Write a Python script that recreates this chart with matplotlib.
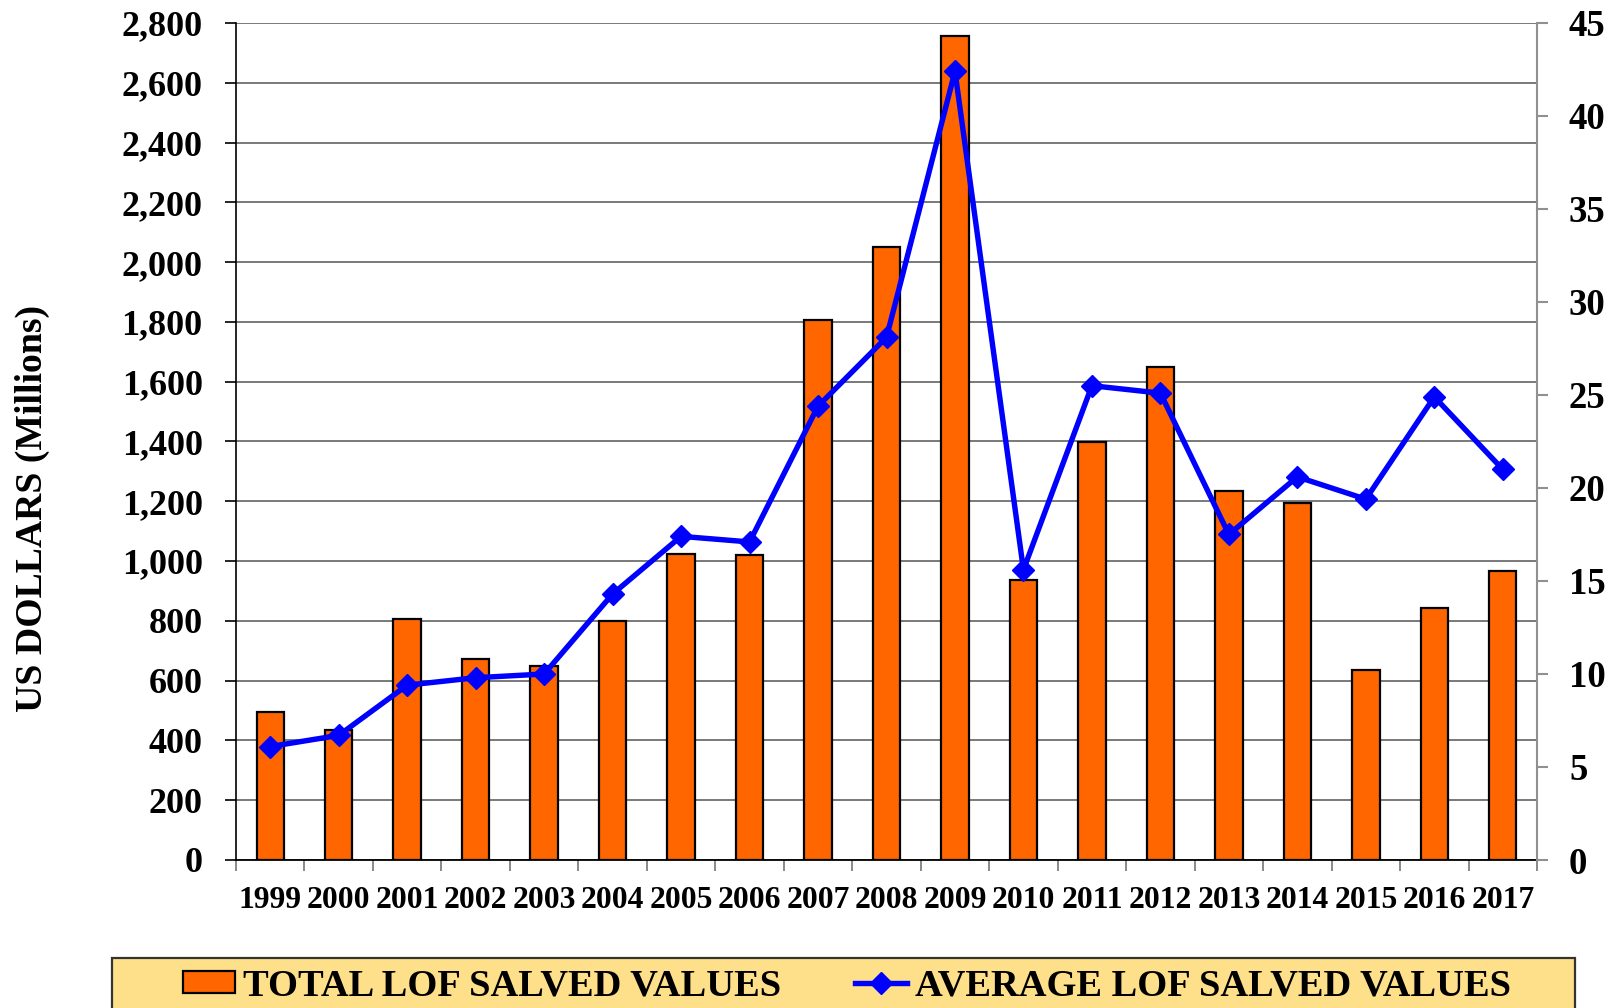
import matplotlib
matplotlib.use("Agg")
import matplotlib.pyplot as plt
import numpy as np
from matplotlib.patches import Patch, Rectangle
from matplotlib.lines import Line2D
from matplotlib.ticker import FuncFormatter, FixedLocator

years = ["1999", "2000", "2001", "2002", "2003", "2004", "2005", "2006", "2007", "2008",
         "2009", "2010", "2011", "2012", "2013", "2014", "2015", "2016", "2017"]
total_values = [495, 435, 805, 672, 650, 800, 1025, 1020, 1805, 2050,
                2755, 937, 1398, 1650, 1236, 1193, 637, 842, 966]
average_values = [6.1, 6.7, 9.4, 9.8, 10.0, 14.3, 17.4, 17.1, 24.4, 28.1,
                  42.4, 15.6, 25.5, 25.1, 17.5, 20.6, 19.4, 24.9, 21.0]
left_ticks = list(range(0, 2801, 200))
right_ticks = list(range(0, 46, 5))

plt.rcParams['font.family'] = ['Liberation Serif', 'DejaVu Serif']
plt.rcParams['font.weight'] = 'bold'

fig = plt.figure(figsize=(16.23, 10.08), dpi=100)
ax = fig.add_axes([236/1623, 1-860/1008, (1537-236)/1623, (860-23)/1008])
ax2 = ax.twinx()

x = np.arange(len(years))
ax.bar(x, total_values, width=0.40, color='#FF6600', edgecolor='black', linewidth=1.6, zorder=3)
ax2.plot(x, average_values, color='#0000FF', linewidth=3.9, marker='D', markersize=11,
         markerfacecolor='#0000FF', markeredgecolor='#0000FF', zorder=4)

ax.set_xlim(-0.5, len(years) - 0.5)
ax.set_ylim(0, 2800)
ax2.set_ylim(0, 45)

ax.set_yticks(left_ticks)
ax.yaxis.set_major_formatter(FuncFormatter(lambda v, p: f"{int(v):,}"))
ax2.set_yticks(right_ticks)

ax.grid(axis='y', color='#6e6e6e', linewidth=1.3, zorder=0)
ax.set_axisbelow(True)

ax.set_xticks(x)
ax.set_xticklabels(years)
ax.xaxis.set_minor_locator(FixedLocator(np.arange(-0.5, len(years), 1.0)))
ax.tick_params(axis='x', which='major', length=0, pad=19, labelsize=22.8)
ax.tick_params(axis='x', which='minor', length=8, width=1.3, color='#808080', direction='out')
ax.tick_params(axis='y', which='major', length=8, width=1.2, color='black', pad=16, labelsize=26)
ax2.tick_params(axis='y', which='major', length=8, width=1.5, color='#909090', pad=15, labelsize=26.5)

for lbl in ax.get_xticklabels() + ax.get_yticklabels() + ax2.get_yticklabels():
    lbl.set_fontweight('bold')

for s in ['top', 'right']:
    ax.spines[s].set_visible(False)
ax2.spines['top'].set_visible(False)
ax2.spines['left'].set_visible(False)
ax2.spines['bottom'].set_visible(False)
ax2.spines['right'].set_color('#909090')
ax2.spines['right'].set_linewidth(1.5)
ax.spines['left'].set_color('black')
ax.spines['left'].set_linewidth(1.2)
ax.spines['bottom'].set_color('black')
ax.spines['bottom'].set_linewidth(1.3)

fig.text(32/1623, 1-508/1008, "US DOLLARS (Millions)", rotation=90, ha='center', va='center',
         fontsize=27.2, fontweight='bold')

# legend background box
rect = Rectangle((112/1623, -0.05), (1575-112)/1623, 0.05 + (1-958/1008),
                 transform=fig.transFigure, facecolor='#FFE08A', edgecolor='#333333',
                 linewidth=1.6, zorder=0)
fig.add_artist(rect)

handles = [Patch(facecolor='#FF6600', edgecolor='black', linewidth=1.6),
           Line2D([0], [0], color='#0000FF', linewidth=3.9, marker='D', markersize=11)]
labels = ["TOTAL LOF SALVED VALUES", "AVERAGE LOF SALVED VALUES"]
leg = fig.legend(handles, labels, loc='center', bbox_to_anchor=(847/1623, 1-986/1008),
                 ncol=2, frameon=False, handlelength=1.35, handleheight=0.48,
                 handletextpad=0.22, columnspacing=1.9, borderpad=0,
                 prop={'weight': 'bold', 'size': 27.7})
leg.set_zorder(5)

fig.savefig("out.png", dpi=100)
